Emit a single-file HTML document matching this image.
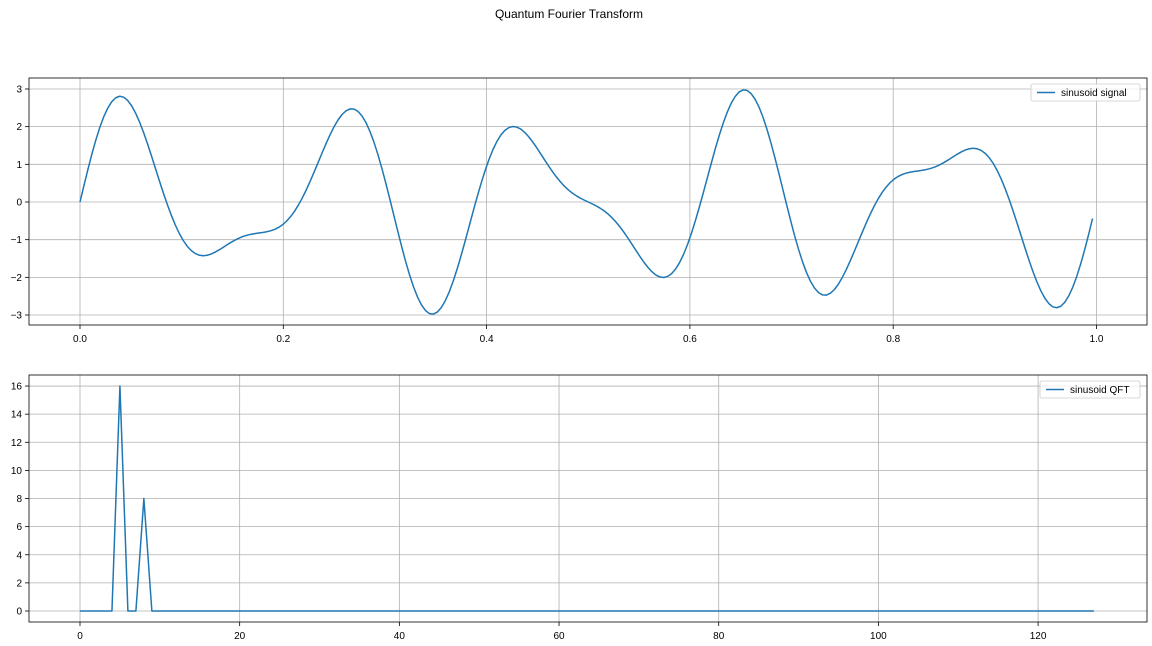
<!DOCTYPE html>
<html><head><meta charset="utf-8">
<style>
body{margin:0;background:#fff;}
svg{display:block;font-family:"Liberation Sans","DejaVu Sans",sans-serif;}
</style></head>
<body>
<svg id="fig" width="1152" height="646" viewBox="0 0 1152 646">
<text x="569" y="18" font-size="12" text-anchor="middle">Quantum Fourier Transform</text>
</svg>
<script>
// Signal components (frequency, amplitude) read from QFT peaks
const signalFreqs = [5, 8];
const signalAmps = [2, 1];
const nSamples = 256;
const topYTicks = [-3, -2, -1, 0, 1, 2, 3];
const topXTicks = [0, 0.2, 0.4, 0.6, 0.8, 1.0];
const topXLabels = ["0.0", "0.2", "0.4", "0.6", "0.8", "1.0"];
const qftValues = [0,0,0,0,0,16,0,0,8,0,0,0,0,0,0,0,0,0,0,0,0,0,0,0,0,0,0,0,0,0,0,0,
0,0,0,0,0,0,0,0,0,0,0,0,0,0,0,0,0,0,0,0,0,0,0,0,0,0,0,0,0,0,0,0,
0,0,0,0,0,0,0,0,0,0,0,0,0,0,0,0,0,0,0,0,0,0,0,0,0,0,0,0,0,0,0,0,
0,0,0,0,0,0,0,0,0,0,0,0,0,0,0,0,0,0,0,0,0,0,0,0,0,0,0,0,0,0,0,0];
const botYTicks = [0, 2, 4, 6, 8, 10, 12, 14, 16];
const botXTicks = [0, 20, 40, 60, 80, 100, 120];

const NS = "http://www.w3.org/2000/svg";
const svg = document.getElementById("fig");
function mk(tag, attrs, parent){
  const e = document.createElementNS(NS, tag);
  for (const k in attrs) e.setAttribute(k, attrs[k]);
  (parent||svg).appendChild(e);
  return e;
}

function drawAxes(cfg){
  const g = mk("g", {});
  
  
  const {L,R,T,B,sx,sy} = cfg;
  cfg.xTicks.forEach((v,i)=>{
    const x = sx(v);
    const gl = mk("line",{x1:x,x2:x,y1:T,y2:B,stroke:"#b0b0b0","stroke-width":0.8},g);
    
    
    mk("line",{x1:x,x2:x,y1:B,y2:B+4,stroke:"#000","stroke-width":0.8},g);
    const t = mk("text",{x:x,y:B+17,"font-size":10,"text-anchor":"middle"},g);
    t.textContent = cfg.xLabels ? cfg.xLabels[i] : String(v);
    
    
  });
  cfg.yTicks.forEach(v=>{
    const y = sy(v);
    const gl = mk("line",{x1:L,x2:R,y1:y,y2:y,stroke:"#b0b0b0","stroke-width":0.8},g);
    
    
    mk("line",{x1:L-4,x2:L,y1:y,y2:y,stroke:"#000","stroke-width":0.8},g);
    const t = mk("text",{x:L-7,y:y+3.5,"font-size":10,"text-anchor":"end"},g);
    t.textContent = v < 0 ? "\u2212" + Math.abs(v) : String(v);
    
    
  });
  const pts = cfg.xs.map((x,i)=>sx(x).toFixed(2)+","+sy(cfg.ys[i]).toFixed(2)).join(" ");
  const pl = mk("polyline",{points:pts,fill:"none",stroke:"#1f77b4","stroke-width":1.5,"stroke-linejoin":"round"},g);
  
  
  const fr = mk("rect",{x:L,y:T,width:R-L,height:B-T,fill:"none",stroke:"#000","stroke-width":0.8},g);
  
  
  const lg = mk("g",{},g);
  
  
  mk("rect",{x:cfg.legX,y:T+6,width:R-7-cfg.legX,height:17,rx:2,fill:"#fff","fill-opacity":0.8,stroke:"#ccc","stroke-width":0.8},lg);
  mk("line",{x1:cfg.legX+6,x2:cfg.legX+24,y1:T+14.5,y2:T+14.5,stroke:"#1f77b4","stroke-width":1.5},lg);
  const lt = mk("text",{x:cfg.legX+30,y:T+18,"font-size":10},lg);
  lt.textContent = cfg.legText;
  
  
}

const tX = [], tY = [];
for (let i=0;i<nSamples;i++){
  const t = i/nSamples;
  let s = 0;
  for (let k=0;k<signalFreqs.length;k++) s += signalAmps[k]*Math.sin(2*Math.PI*signalFreqs[k]*t);
  tX.push(t); tY.push(s);
}
drawAxes({name:"signal-axes",L:29,R:1147,T:78,B:325,
  sx:v=>80+v*1016.5, sy:v=>202-v*37.67,
  xTicks:topXTicks,xLabels:topXLabels,yTicks:topYTicks,
  xs:tX,ys:tY,seriesName:"sinusoid-signal-line",legX:1031,legText:"sinusoid signal"});

const bX = qftValues.map((_,i)=>i);
drawAxes({name:"qft-axes",L:29,R:1147,T:375,B:622,
  sx:v=>80+v*7.984, sy:v=>611-v*14.06,
  xTicks:botXTicks,yTicks:botYTicks,
  xs:bX,ys:qftValues,seriesName:"sinusoid-qft-line",legX:1040,legText:"sinusoid QFT"});
</script>
</body></html>
